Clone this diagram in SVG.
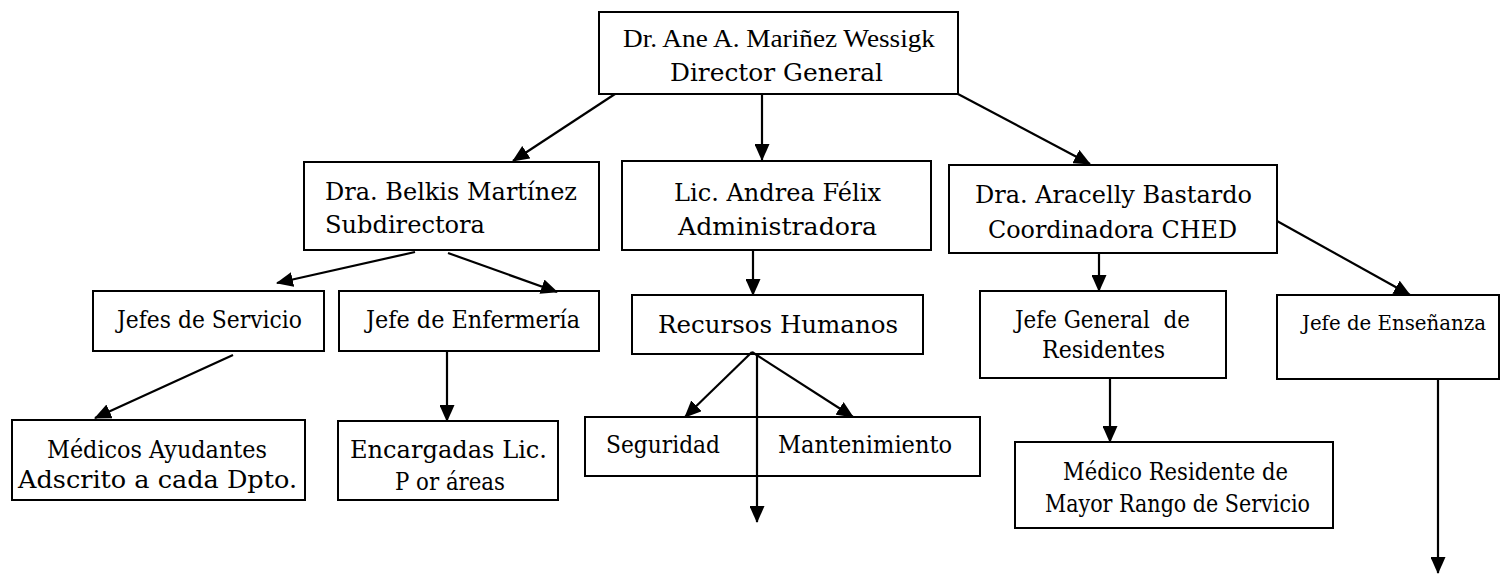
<svg xmlns="http://www.w3.org/2000/svg" width="1501" height="575" viewBox="0 0 1501 575">
<defs>
<marker id="ah" markerUnits="userSpaceOnUse" markerWidth="17" markerHeight="15" refX="16" refY="7.5" orient="auto">
<path d="M0,0 L17,7.5 L0,15 z" fill="#000"/>
</marker>
<style>
.box{fill:#fff;stroke:#000;stroke-width:2}
.t{font-family:"DejaVu Serif","Liberation Serif",serif;font-size:24px;fill:#000;white-space:pre}
.tt{font-family:"Liberation Serif","DejaVu Serif",serif;font-size:26px;fill:#000}
.s{font-size:21px}
.c{fill:none;stroke:#000;stroke-width:2.2}
</style>
</defs>
<rect width="1501" height="575" fill="#fff"/>
<g id="director">
<rect class="box" x="599" y="12" width="359" height="82"/>
<text class="tt" x="623" y="47" textLength="312" lengthAdjust="spacingAndGlyphs">Dr. Ane A. Mariñez Wessigk</text>
<text class="t" x="670" y="81" textLength="213" lengthAdjust="spacingAndGlyphs">Director General</text>
</g>
<g id="subdirectora">
<rect class="box" x="304" y="162" width="295" height="88"/>
<text class="t" x="325" y="200" textLength="252" lengthAdjust="spacingAndGlyphs">Dra. Belkis Martínez</text>
<text class="t" x="325" y="233" textLength="160" lengthAdjust="spacingAndGlyphs">Subdirectora</text>
</g>
<g id="administradora">
<rect class="box" x="622" y="161" width="309" height="89"/>
<text class="t" x="674" y="201" textLength="207" lengthAdjust="spacingAndGlyphs">Lic. Andrea Félix</text>
<text class="t" x="678" y="235" textLength="199" lengthAdjust="spacingAndGlyphs">Administradora</text>
</g>
<g id="coordinadora">
<rect class="box" x="949" y="165" width="328" height="88"/>
<text class="t" x="975" y="203" textLength="277" lengthAdjust="spacingAndGlyphs">Dra. Aracelly Bastardo</text>
<text class="t" x="988" y="238" textLength="249" lengthAdjust="spacingAndGlyphs">Coordinadora CHED</text>
</g>
<g id="jefes-servicio">
<rect class="box" x="93" y="291" width="231" height="60"/>
<text class="t" x="117" y="328" textLength="185" lengthAdjust="spacingAndGlyphs">Jefes de Servicio</text>
</g>
<g id="jefe-enfermeria">
<rect class="box" x="339" y="291" width="260" height="60"/>
<text class="t" x="366" y="328" textLength="214" lengthAdjust="spacingAndGlyphs">Jefe de Enfermería</text>
</g>
<g id="recursos-humanos">
<rect class="box" x="632" y="295" width="291" height="59"/>
<text class="t" x="658" y="333" textLength="240" lengthAdjust="spacingAndGlyphs">Recursos Humanos</text>
</g>
<g id="jefe-general-residentes">
<rect class="box" x="980" y="291" width="246" height="87"/>
<text class="t" x="1015" y="328" textLength="175" lengthAdjust="spacingAndGlyphs">Jefe General  de</text>
<text class="t" x="1042" y="358" textLength="123" lengthAdjust="spacingAndGlyphs">Residentes</text>
</g>
<g id="jefe-ensenanza">
<rect class="box" x="1277" y="295" width="222" height="84"/>
<text class="t s" x="1302" y="330" textLength="184" lengthAdjust="spacingAndGlyphs">Jefe de Enseñanza</text>
</g>
<g id="medicos-ayudantes">
<rect class="box" x="12" y="420" width="293" height="80"/>
<text class="t" x="47" y="458" textLength="220" lengthAdjust="spacingAndGlyphs">Médicos Ayudantes</text>
<text class="t" x="18" y="488" textLength="279" lengthAdjust="spacingAndGlyphs">Adscrito a cada Dpto.</text>
</g>
<g id="encargadas">
<rect class="box" x="338" y="421" width="220" height="79"/>
<text class="t" x="350" y="458" textLength="197" lengthAdjust="spacingAndGlyphs">Encargadas Lic.</text>
<text class="t" x="395" y="490" textLength="110" lengthAdjust="spacingAndGlyphs">P or áreas</text>
</g>
<g id="seguridad-mantenimiento">
<rect class="box" x="585" y="417" width="395" height="59"/>
<text class="t" x="606" y="453" textLength="114" lengthAdjust="spacingAndGlyphs">Seguridad</text>
<text class="t" x="778" y="453" textLength="174" lengthAdjust="spacingAndGlyphs">Mantenimiento</text>
</g>
<g id="medico-residente">
<rect class="box" x="1015" y="442" width="318" height="86"/>
<text class="t" x="1063" y="480" textLength="225" lengthAdjust="spacingAndGlyphs">Médico Residente de</text>
<text class="t" x="1045" y="512" textLength="265" lengthAdjust="spacingAndGlyphs">Mayor Rango de Servicio</text>
</g>
<g id="connectors">
<line class="c" x1="615" y1="94" x2="513" y2="161" marker-end="url(#ah)"/>
<line class="c" x1="762" y1="94" x2="762" y2="160" marker-end="url(#ah)"/>
<line class="c" x1="958" y1="94" x2="1090" y2="164" marker-end="url(#ah)"/>
<line class="c" x1="415" y1="252" x2="277" y2="283" marker-end="url(#ah)"/>
<line class="c" x1="448" y1="253" x2="557" y2="292" marker-end="url(#ah)"/>
<line class="c" x1="753" y1="250" x2="753" y2="295" marker-end="url(#ah)"/>
<line class="c" x1="1099" y1="254" x2="1099" y2="291" marker-end="url(#ah)"/>
<line class="c" x1="1277" y1="221" x2="1410" y2="295" marker-end="url(#ah)"/>
<line class="c" x1="233" y1="355" x2="95" y2="418" marker-end="url(#ah)"/>
<line class="c" x1="447" y1="351" x2="447" y2="421" marker-end="url(#ah)"/>
<line class="c" x1="752" y1="352" x2="685" y2="417" marker-end="url(#ah)"/>
<line class="c" x1="752" y1="352" x2="853" y2="417" marker-end="url(#ah)"/>
<line class="c" x1="757" y1="353" x2="757" y2="522" marker-end="url(#ah)"/>
<line class="c" x1="1110" y1="378" x2="1110" y2="442" marker-end="url(#ah)"/>
<line class="c" x1="1438" y1="379" x2="1438" y2="573" marker-end="url(#ah)"/>
</g>
</svg>
